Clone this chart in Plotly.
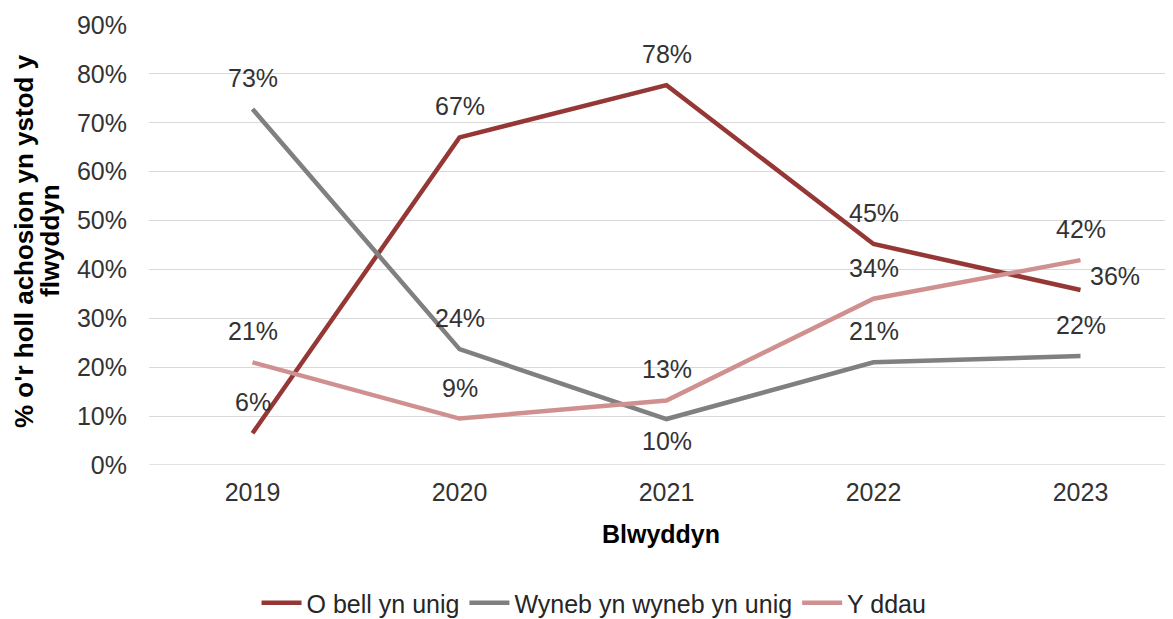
import plotly.graph_objects as go

years = [2019, 2020, 2021, 2022, 2023]
o_bell = [6.5, 67.0, 77.7, 45.2, 35.8]
wyneb = [72.8, 23.7, 9.4, 21.0, 22.3]
y_ddau = [21.0, 9.5, 13.2, 34.0, 41.9]
o_bell_lbl = ["6%", "67%", "78%", "45%", "36%"]
wyneb_lbl = ["73%", "24%", "10%", "21%", "22%"]
y_ddau_lbl = ["21%", "9%", "13%", "34%", "42%"]
y_title_lines = ["% o'r holl achosion yn ystod y", "flwyddyn"]
x_title = "Blwyddyn"

names = ["O bell yn unig", "Wyneb yn wyneb yn unig", "Y ddau"]
colors = ["#953735", "#808080", "#D09090"]
series = [o_bell, wyneb, y_ddau]
labels = [o_bell_lbl, wyneb_lbl, y_ddau_lbl]
# label offsets (xshift, yshift) per point
offsets = [
    [(0, 31), (0, 31), (0, 31), (0, 31), (34, 14)],
    [(0, 31), (0, 31), (0, -22), (0, 31), (0, 31)],
    [(0, 31), (0, 31), (0, 31), (0, 31), (0, 31)],
]

FONT = "Liberation Sans, Arial, sans-serif"
FS = 25
fig = go.Figure()
for name, col, vals in zip(names, colors, series):
    fig.add_trace(go.Scatter(x=years, y=[v / 100 for v in vals], mode="lines", name=name,
                             line=dict(color=col, width=4.5)))

for vals, lbls, offs in zip(series, labels, offsets):
    for x, v, t, (dx, dy) in zip(years, vals, lbls, offs):
        fig.add_annotation(x=x, y=v / 100, text=t, showarrow=False, xshift=dx, yshift=dy,
                           font=dict(family=FONT, size=FS, color="#333333"))

# y-axis title, two rotated lines
for i, line in enumerate(y_title_lines):
    fig.add_annotation(xref="paper", yref="paper", x=0, y=0.5, xanchor="center", yanchor="middle",
                       xshift=-125 + 26 * i, yshift=4, textangle=-90, showarrow=False,
                       text="<b>" + line + "</b>",
                       font=dict(family=FONT, size=26, color="#000000"))

fig.update_layout(
    width=1173, height=619,
    margin=dict(l=141, r=8, t=17, b=162, autoexpand=False),
    plot_bgcolor="white", paper_bgcolor="white",
    font=dict(family=FONT, size=FS, color="#404040"),
    showlegend=True,
    legend=dict(orientation="h", x=0.4346, xanchor="center", y=-0.366, yanchor="bottom",
                font=dict(family=FONT, size=FS, color="#262626"), itemwidth=40,
                tracegroupgap=0, bgcolor="rgba(0,0,0,0)"),
    xaxis=dict(range=[2018.5, 2018.5 + 1024 / 207], tickvals=years, ticktext=[str(y) for y in years],
               showgrid=False, zeroline=False, showline=False, ticks="", automargin=False,
               ticklabelstandoff=10,
               tickfont=dict(size=FS, color="#333333"),
               title=dict(text="<b>" + x_title + "</b>", font=dict(size=FS, color="#000000"), standoff=20)),
    yaxis=dict(range=[0, 0.9], dtick=0.1, tickformat=".0%", showgrid=True, gridcolor="#D9D9D9",
               gridwidth=1, zeroline=False, showline=False, ticks="", automargin=False,
               ticklabelstandoff=21,
               tickfont=dict(size=FS, color="#333333")),
)
fig.add_shape(type="line", xref="paper", yref="y", x0=0, x1=1, y0=0, y1=0,
              line=dict(color="#D9D9D9", width=1.5), layer="below")

fig.write_html("out.html")
